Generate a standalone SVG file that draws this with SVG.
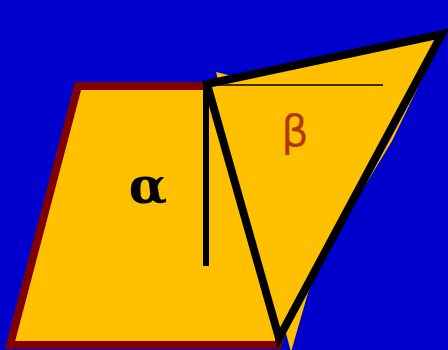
<svg xmlns="http://www.w3.org/2000/svg" width="448" height="350" viewBox="0 0 448 350">
<style>
.bg{fill:#0000CC}
.para{fill:#FFC000;stroke:#800000;stroke-width:8;stroke-linejoin:miter}
.ghost{fill:#FFC000}
.tri{fill:#FFC000;stroke:#000;stroke-width:8;stroke-linejoin:miter}
.line{stroke:#000;fill:none}
</style>
<rect class="bg" x="0" y="0" width="448" height="350"/>
<g id="parallelogram"><polygon class="para" points="78,86 346,86 278,345 10,345"/></g>
<g id="shadow-triangle"><polygon class="ghost" points="216,72 240,78 436,50 392,141 326,250 308,293 291,352"/></g>
<g id="triangle"><polygon class="tri" points="207,84 442,34 279,338"/></g>
<g id="connectors">
<line class="line" x1="206" y1="84" x2="206" y2="266" stroke-width="6"/>
<line class="line" x1="207" y1="85" x2="383" y2="85" stroke-width="1.5"/>
</g>
<g id="alpha"><text x="148" y="203" text-anchor="middle" font-family="'DejaVu Serif', serif" font-weight="bold" font-size="50" fill="#000">α</text></g>
<g id="beta"><text x="295" y="146" text-anchor="middle" font-family="'DejaVu Sans', sans-serif" font-size="43" fill="#B03A00">β</text></g>
</svg>
